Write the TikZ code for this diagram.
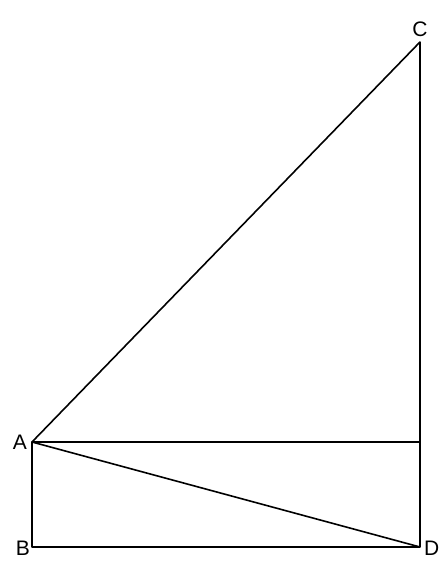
\documentclass[tikz,border=0pt]{standalone}
\usepackage{fontspec}
\setmainfont{Liberation Sans}
\begin{document}
\begin{tikzpicture}[x=1pt,y=-1pt,
  pt/.style={coordinate},
  lbl/.style={inner sep=0pt,font=\fontsize{21}{24}\selectfont},
  edge/.style={line width=1.6pt,line cap=round,line join=round}]
\useasboundingbox (0,0) rectangle (445,575);
\coordinate (A) at (32,442);
\coordinate (B) at (32,547);
\coordinate (C) at (420,42);
\coordinate (D) at (420,547);
\coordinate (E) at (420,442);
\node[lbl,anchor=east] (lA) at (27,442) {A};
\node[lbl,anchor=east] (lB) at (30,548) {B};
\node[lbl] (lC) at (420,29) {C};
\node[lbl,anchor=west] (lD) at (424,548) {D};
\draw[edge] (A) -- (C) -- (D) -- (B) -- (A) -- (D);
\draw[edge] (A) -- (E);
\end{tikzpicture}
\end{document}
